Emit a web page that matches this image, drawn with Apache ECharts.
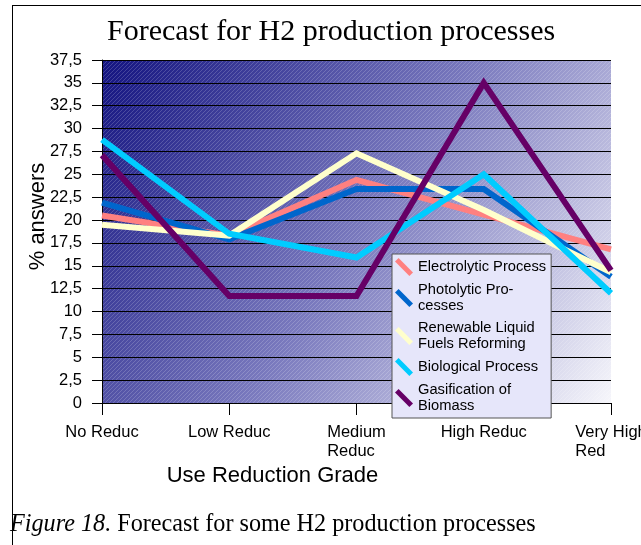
<!DOCTYPE html>
<html>
<head>
<meta charset="utf-8">
<script src="https://cdn.jsdelivr.net/npm/echarts@6/dist/echarts.min.js"></script>
<style>
  body{ margin:0; background:#fff; }
  .frame{
    position:absolute; left:12px; top:5px; width:629px; height:540px;
    border-left:1px solid #000; border-top:1px solid #000;
  }
  #main{ position:absolute; left:0; top:0; width:641px; height:545px; }
</style>
</head>
<body>
<div class="frame"></div>
<div id="main"></div>
<script>
// values (% answers)
var categories = ['No Reduc', 'Low Reduc', 'Medium\nReduc', 'High Reduc', 'Very High\nRed'];
var electrolytic = [20.5, 18.3, 24.4, 20.6, 16.8];
var photolytic   = [21.9, 17.9, 23.4, 23.4, 13.8];
var renewable    = [19.5, 18.3, 27.3, 21.1, 14.3];
var biological   = [28.8, 18.5, 15.9, 25.0, 12.0];
var gasification = [27.1, 11.7, 11.7, 35.0, 14.5];

var seriesNames = ['Electrolytic Process', 'Photolytic Pro-\ncesses', 'Renewable Liquid\nFuels Reforming',
  'Biological Process', 'Gasification of\nBiomass'];
var seriesData = [electrolytic, photolytic, renewable, biological, gasification];
var colors = ['#ff8080', '#0066cc', '#ffffcc', '#00ccff', '#660066'];

// faint diagonal hatching like the original plot fill
var hatch = document.createElement('canvas');
hatch.width = 4; hatch.height = 4;
var hc = hatch.getContext('2d');
hc.strokeStyle = 'rgba(255,255,255,0.18)';
hc.lineWidth = 1;
hc.beginPath();
hc.moveTo(0, 4); hc.lineTo(4, 0);
hc.stroke();

var myChart = echarts.init(document.getElementById('main'));
var barIcon = 'path://M0,4 L4,0 L20,16 L16,20 Z';

var series = [];
for (var i = 0; i < seriesData.length; i++) {
  series.push({
    name: seriesNames[i],
    type: 'line',
    data: seriesData[i],
    symbol: 'none',
    color: colors[i],
    lineStyle: { width: 6, color: colors[i], join: 'miter', cap: 'butt' }
  });
}

var opt = {
  animation: false,
  title: [{
    text: 'Forecast for H2 production processes',
    left: 107, top: 17, padding: 0,
    textStyle: { fontFamily: 'Liberation Serif', fontSize: 30, fontWeight: 'normal', color: '#000' }
  }, {
    text: '{i|Figure 18.}{n| Forecast for some H2 production processes}',
    left: 10, top: 513, padding: 0,
    textStyle: {
      fontWeight: 'normal',
      rich: {
        i: { fontFamily: 'Liberation Serif', fontSize: 24.2, fontStyle: 'italic', fontWeight: 'normal', color: '#000' },
        n: { fontFamily: 'Liberation Serif', fontSize: 24.2, fontWeight: 'normal', color: '#000' }
      }
    }
  }],
  grid: {
    left: 102, top: 60, right: 30, bottom: 142,
    outerBoundsMode: 'none',
    show: true, borderWidth: 0,
    backgroundColor: new echarts.graphic.LinearGradient(0, 0, 1, 1, [
      { offset: 0, color: '#131380' },
      { offset: 0.5, color: '#7878bd' },
      { offset: 1, color: '#f6f6fb' }
    ])
  },
  legend: {
    orient: 'vertical',
    left: 392, top: 254,
    padding: [4, 5, 4, 3],
    itemWidth: 18, itemHeight: 18, itemGap: 6,
    backgroundColor: '#e6e6fa',
    borderColor: '#555', borderWidth: 1,
    icon: barIcon,
    textStyle: { fontFamily: 'Liberation Sans', fontSize: 14.7, lineHeight: 16, color: '#000' },
    data: seriesNames
  },
  xAxis: {
    type: 'category',
    data: categories,
    boundaryGap: false,
    name: 'Use Reduction Grade',
    nameLocation: 'middle',
    nameGap: 58,
    nameTextStyle: { fontFamily: 'Liberation Sans', fontSize: 22, color: '#000', padding: [0, 168, 0, 0] },
    axisLine: { lineStyle: { color: '#000', width: 1 } },
    axisTick: { show: true, length: 12, lineStyle: { color: '#000' } },
    axisLabel: {
      interval: 0, margin: 20,
      formatter: function (v) {
        return v.split('\n').map(function (s) { return '{l|' + s + '}'; }).join('\n');
      },
      rich: {
        l: { align: 'left', fontFamily: 'Liberation Sans', fontSize: 16.5, lineHeight: 19, color: '#000' }
      }
    },
    splitLine: { show: false }
  },
  yAxis: {
    type: 'value',
    min: 0, max: 37.5, interval: 2.5,
    name: '% answers',
    nameLocation: 'middle',
    nameGap: 53,
    nameMoveOverlap: false,
    nameTextStyle: { fontFamily: 'Liberation Sans', fontSize: 22, color: '#000', padding: [0, 0, 0, 30] },
    axisLine: { show: true, lineStyle: { color: '#000', width: 1 } },
    axisTick: { show: true, length: 10, lineStyle: { color: '#000' } },
    axisLabel: {
      margin: 20,
      fontFamily: 'Liberation Sans', fontSize: 16.5, color: '#000',
      formatter: function (v) { return String(v).replace('.', ','); }
    },
    splitLine: { show: true, lineStyle: { color: '#000', width: 1 } },
    splitArea: { show: true, areaStyle: { color: [{ image: hatch, repeat: 'repeat' }] } }
  },
  series: series
};

myChart.setOption(opt);
</script>
</body>
</html>
